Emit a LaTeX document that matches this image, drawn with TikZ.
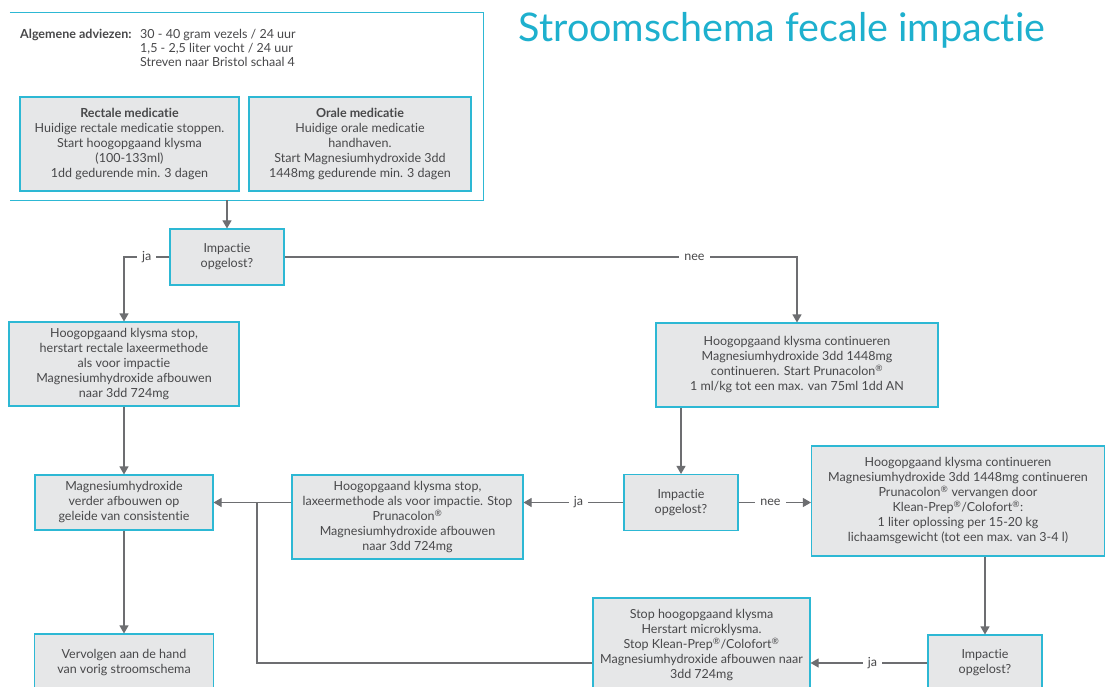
\documentclass[tikz,border=0pt]{standalone}
\usepackage{fontspec}
\setmainfont{Lato}[Ligatures=NoCommon]
\usetikzlibrary{arrows.meta}
\definecolor{boxfill}{HTML}{E6E7E8}
\definecolor{boxline}{HTML}{2DB8D4}
\definecolor{txt}{HTML}{48484A}
\definecolor{ln}{HTML}{6D6E71}
\definecolor{titlec}{HTML}{1EB0CE}
\newcommand{\reg}{\textsuperscript{®}}
\begin{document}
\begin{tikzpicture}[x=1pt,y=-1pt,
  box/.style={draw=boxline, line width=1.1pt, fill=boxfill, text=txt, align=center,
    font=\fontsize{12.5}{15}\selectfont, inner sep=0pt},
  conn/.style={draw=ln, line width=1.1pt},
  arr/.style={conn, -{Triangle[width=9pt,length=8pt]}},
  lab/.style={fill=white, text=txt, font=\fontsize{12.5}{15}\selectfont, inner xsep=5pt, inner ysep=1pt},
  plain/.style={text=txt, font=\fontsize{12.5}{14}\selectfont, inner sep=0pt}
]
\useasboundingbox (0,0) rectangle (1106,687);
\clip (0,0) rectangle (1106,687);
\fill[white] (0,0) rectangle (1106,687);

% title
\node[text=titlec, font=\fontsize{39.5}{42}\selectfont] (title) at (782,30) {Stroomschema fecale impactie};

% outer open frame
\node[minimum width=473pt, minimum height=187pt, inner sep=0pt] (outer) at (246.5,106.5) {};
\draw[draw=boxline, line width=1.1pt] (outer.north west) -- (outer.north east) -- (outer.south east) -- (outer.south west);

\node[plain, anchor=base west] (advlab) at (20,39) {\textbf{Algemene adviezen:}};
\node[plain, anchor=base west] (adv1) at (140,39) {30 - 40 gram vezels / 24 uur};
\node[plain, anchor=base west] (adv2) at (140,53) {1,5 - 2,5 liter vocht / 24 uur};
\node[plain, anchor=base west] (adv3) at (140,67) {Streven naar Bristol schaal 4};

\node[box, minimum width=219pt, minimum height=94pt] (rect) at (129.5,144)
  {\textbf{Rectale medicatie}\\Huidige rectale medicatie stoppen.\\Start hoogopgaand klysma\\(100-133ml)\\1dd gedurende min. 3 dagen};
\node[box, minimum width=222pt, minimum height=94pt] (oral) at (360,144)
  {\textbf{Orale medicatie}\\Huidige orale medicatie\\handhaven.\\Start Magnesiumhydroxide 3dd\\1448mg gedurende min. 3 dagen};

\node[box, minimum width=114pt, minimum height=56pt] (imp1) at (227,257) {Impactie\\opgelost?};
\node[box, minimum width=230pt, minimum height=84pt] (hoog1) at (124,364)
  {Hoogopgaand klysma stop,\\herstart rectale laxeermethode\\als voor impactie\\Magnesiumhydroxide afbouwen\\naar 3dd 724mg};
\node[box, minimum width=282pt, minimum height=84pt] (hoog2) at (797,365)
  {Hoogopgaand klysma continueren\\Magnesiumhydroxide 3dd 1448mg\\continueren. Start Prunacolon\reg\\1 ml/kg tot een max. van 75ml 1dd AN};
\node[box, minimum width=178pt, minimum height=55pt] (mag) at (124,502.5)
  {Magnesiumhydroxide\\verder afbouwen op\\geleide van consistentie};
\node[box, minimum width=179pt, minimum height=58pt] (verv) at (124,663)
  {Vervolgen aan de hand\\van vorig stroomschema};
\node[box, minimum width=231pt, minimum height=84pt] (hoog3) at (407.5,517)
  {Hoogopgaand klysma stop,\\laxeermethode als voor impactie. Stop\\Prunacolon\reg\\Magnesiumhydroxide afbouwen\\naar 3dd 724mg};
\node[box, minimum width=114pt, minimum height=56pt] (imp2) at (681,502.5) {Impactie\\opgelost?};
\node[box, minimum width=293pt, minimum height=110pt] (hoog4) at (958,501)
  {Hoogopgaand klysma continueren\\Magnesiumhydroxide 3dd 1448mg continueren\\Prunacolon\reg{} vervangen door\\Klean-Prep\reg/Colofort\reg:\\1 liter oplossing per 15-20 kg\\lichaamsgewicht (tot een max. van 3-4 l)};
\node[box, minimum width=114pt, minimum height=56pt] (imp3) at (985,663) {Impactie\\opgelost?};
\node[box, minimum width=217pt, minimum height=94pt] (stop) at (701.5,645)
  {Stop hoogopgaand klysma\\Herstart microklysma.\\Stop Klean-Prep\reg/Colofort\reg\\Magnesiumhydroxide afbouwen naar\\3dd 724mg};

% connectors
\draw[arr] (outer.south -| imp1.north) -- (imp1.north);
\draw[arr] (imp1.west) -| node[lab, pos=0.25] {ja} (hoog1.north);
\draw[arr] (imp1.east) -| node[lab, pos=0.40] {nee} (hoog2.north);
\draw[arr] (mag.north |- hoog1.south) -- (mag.north);
\draw[arr] (mag.south) -- (verv.north);
\draw[arr] (imp2.north |- hoog2.south) -- (imp2.north);
\draw[arr] (imp2.west) -- node[lab, pos=0.45] {ja} (hoog3.east |- imp2.west);
\draw[arr] (imp2.east) -- node[lab, pos=0.44] {nee} (hoog4.west |- imp2.east);
\draw[arr] (hoog3.west |- mag.east) -- (mag.east);
\coordinate (junc) at (257,502.5);
\draw[arr] (imp3.north |- hoog4.south) -- (imp3.north);
\draw[arr] (imp3.west) -- node[lab, pos=0.47] {ja} (stop.east |- imp3.west);
\draw[conn] (stop.west |- imp3.west) -| (junc);
\end{tikzpicture}
\end{document}
